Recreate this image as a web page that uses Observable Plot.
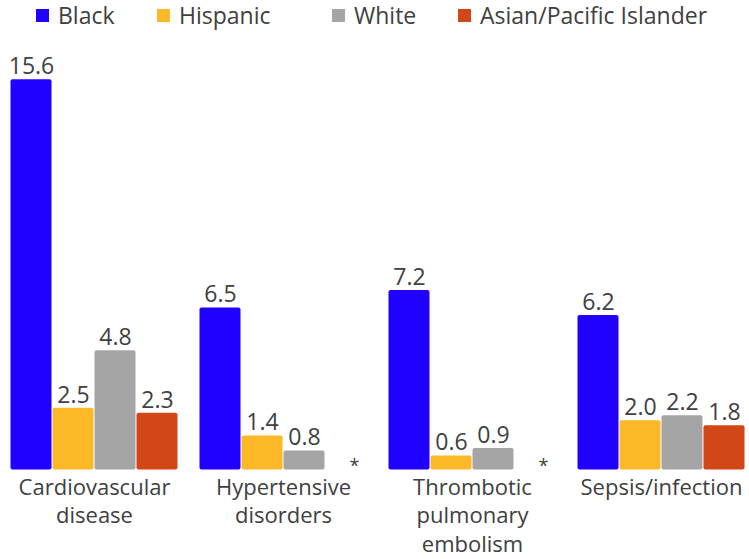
<!DOCTYPE html>
<html><head><meta charset="utf-8">
<script src="https://cdn.jsdelivr.net/npm/d3@7"></script>
<script src="https://cdn.jsdelivr.net/npm/@observablehq/plot@0.6"></script>
<style>
body{margin:0;background:#fff;font-family:"Open Sans",sans-serif;}
#legend{position:relative;height:26px;width:749px;}
.item{position:absolute;top:2px;height:26px;display:flex;align-items:center;font-size:23px;color:#404040;white-space:nowrap;}
.sw{width:13px;height:13px;margin-right:9px;}
</style></head><body>
<div id="legend"></div><div id="chart"></div>
<script>
const groups = ["Cardiovascular\ndisease", "Hypertensive\ndisorders", "Thrombotic\npulmonary\nembolism", "Sepsis/infection"];
const races = ["Black", "Hispanic", "White", "Asian/Pacific Islander"];
const black = [15.6, 6.5, 7.2, 6.2];
const hispanic = [2.5, 1.4, 0.6, 2.0];
const white = [4.8, 0.8, 0.9, 2.2];
const asian = [2.3, null, null, 1.8];
const colors = ["#2000ff", "#fdb827", "#a5a5a5", "#d24717"];
const missingLabel = "*";

const series = [black, hispanic, white, asian];
const rows = [];
groups.forEach((g, i) => races.forEach((r, j) => rows.push({group: g, race: r, value: series[j][i]})));
const valid = rows.filter(d => d.value != null);
const missing = rows.filter(d => d.value == null);

// legend
const legendLefts = [36, 157, 332, 458];
const legend = document.getElementById("legend");
races.forEach((r, j) => {
  const it = document.createElement("div");
  it.className = "item";
  it.style.left = legendLefts[j] + "px";
  const sw = document.createElement("span");
  sw.className = "sw";
  sw.style.background = colors[j];
  it.appendChild(sw);
  it.appendChild(document.createTextNode(r));
  legend.appendChild(it);
});

const chart = Plot.plot({
  width: 749,
  height: 533,
  marginTop: 39,
  marginBottom: 89,
  marginLeft: 8,
  marginRight: 2,
  style: {fontFamily: "Open Sans", fontSize: "23px", background: "#fff"},
  fx: {domain: groups, paddingInner: 0.1, paddingOuter: 0, axis: null, label: null},
  x: {domain: races, padding: 0, axis: null},
  y: {domain: [0, 16.15], axis: null},
  color: {domain: races, range: colors},
  marks: [
    Plot.barY(valid, {fx: "group", x: "race", y: "value", fill: "race", rx: 2, inset: 0.5}),
    Plot.text(valid, {fx: "group", x: "race", y: "value", text: d => d.value.toFixed(1), lineAnchor: "bottom", dy: -5, fontSize: 23, fill: "#404040"}),
    Plot.text(missing, {fx: "group", x: "race", y: () => 0, text: () => missingLabel, lineAnchor: "middle", dx: 8, dy: -4, fontSize: 18, fill: "#404040"}),
    Plot.text(groups, {fx: d => d, text: d => d, frameAnchor: "bottom", lineAnchor: "top", dy: 4, fontSize: 22, lineHeight: 1.3, fill: "#404040"})
  ]
});
document.getElementById("chart").appendChild(chart);
</script>
</body></html>
